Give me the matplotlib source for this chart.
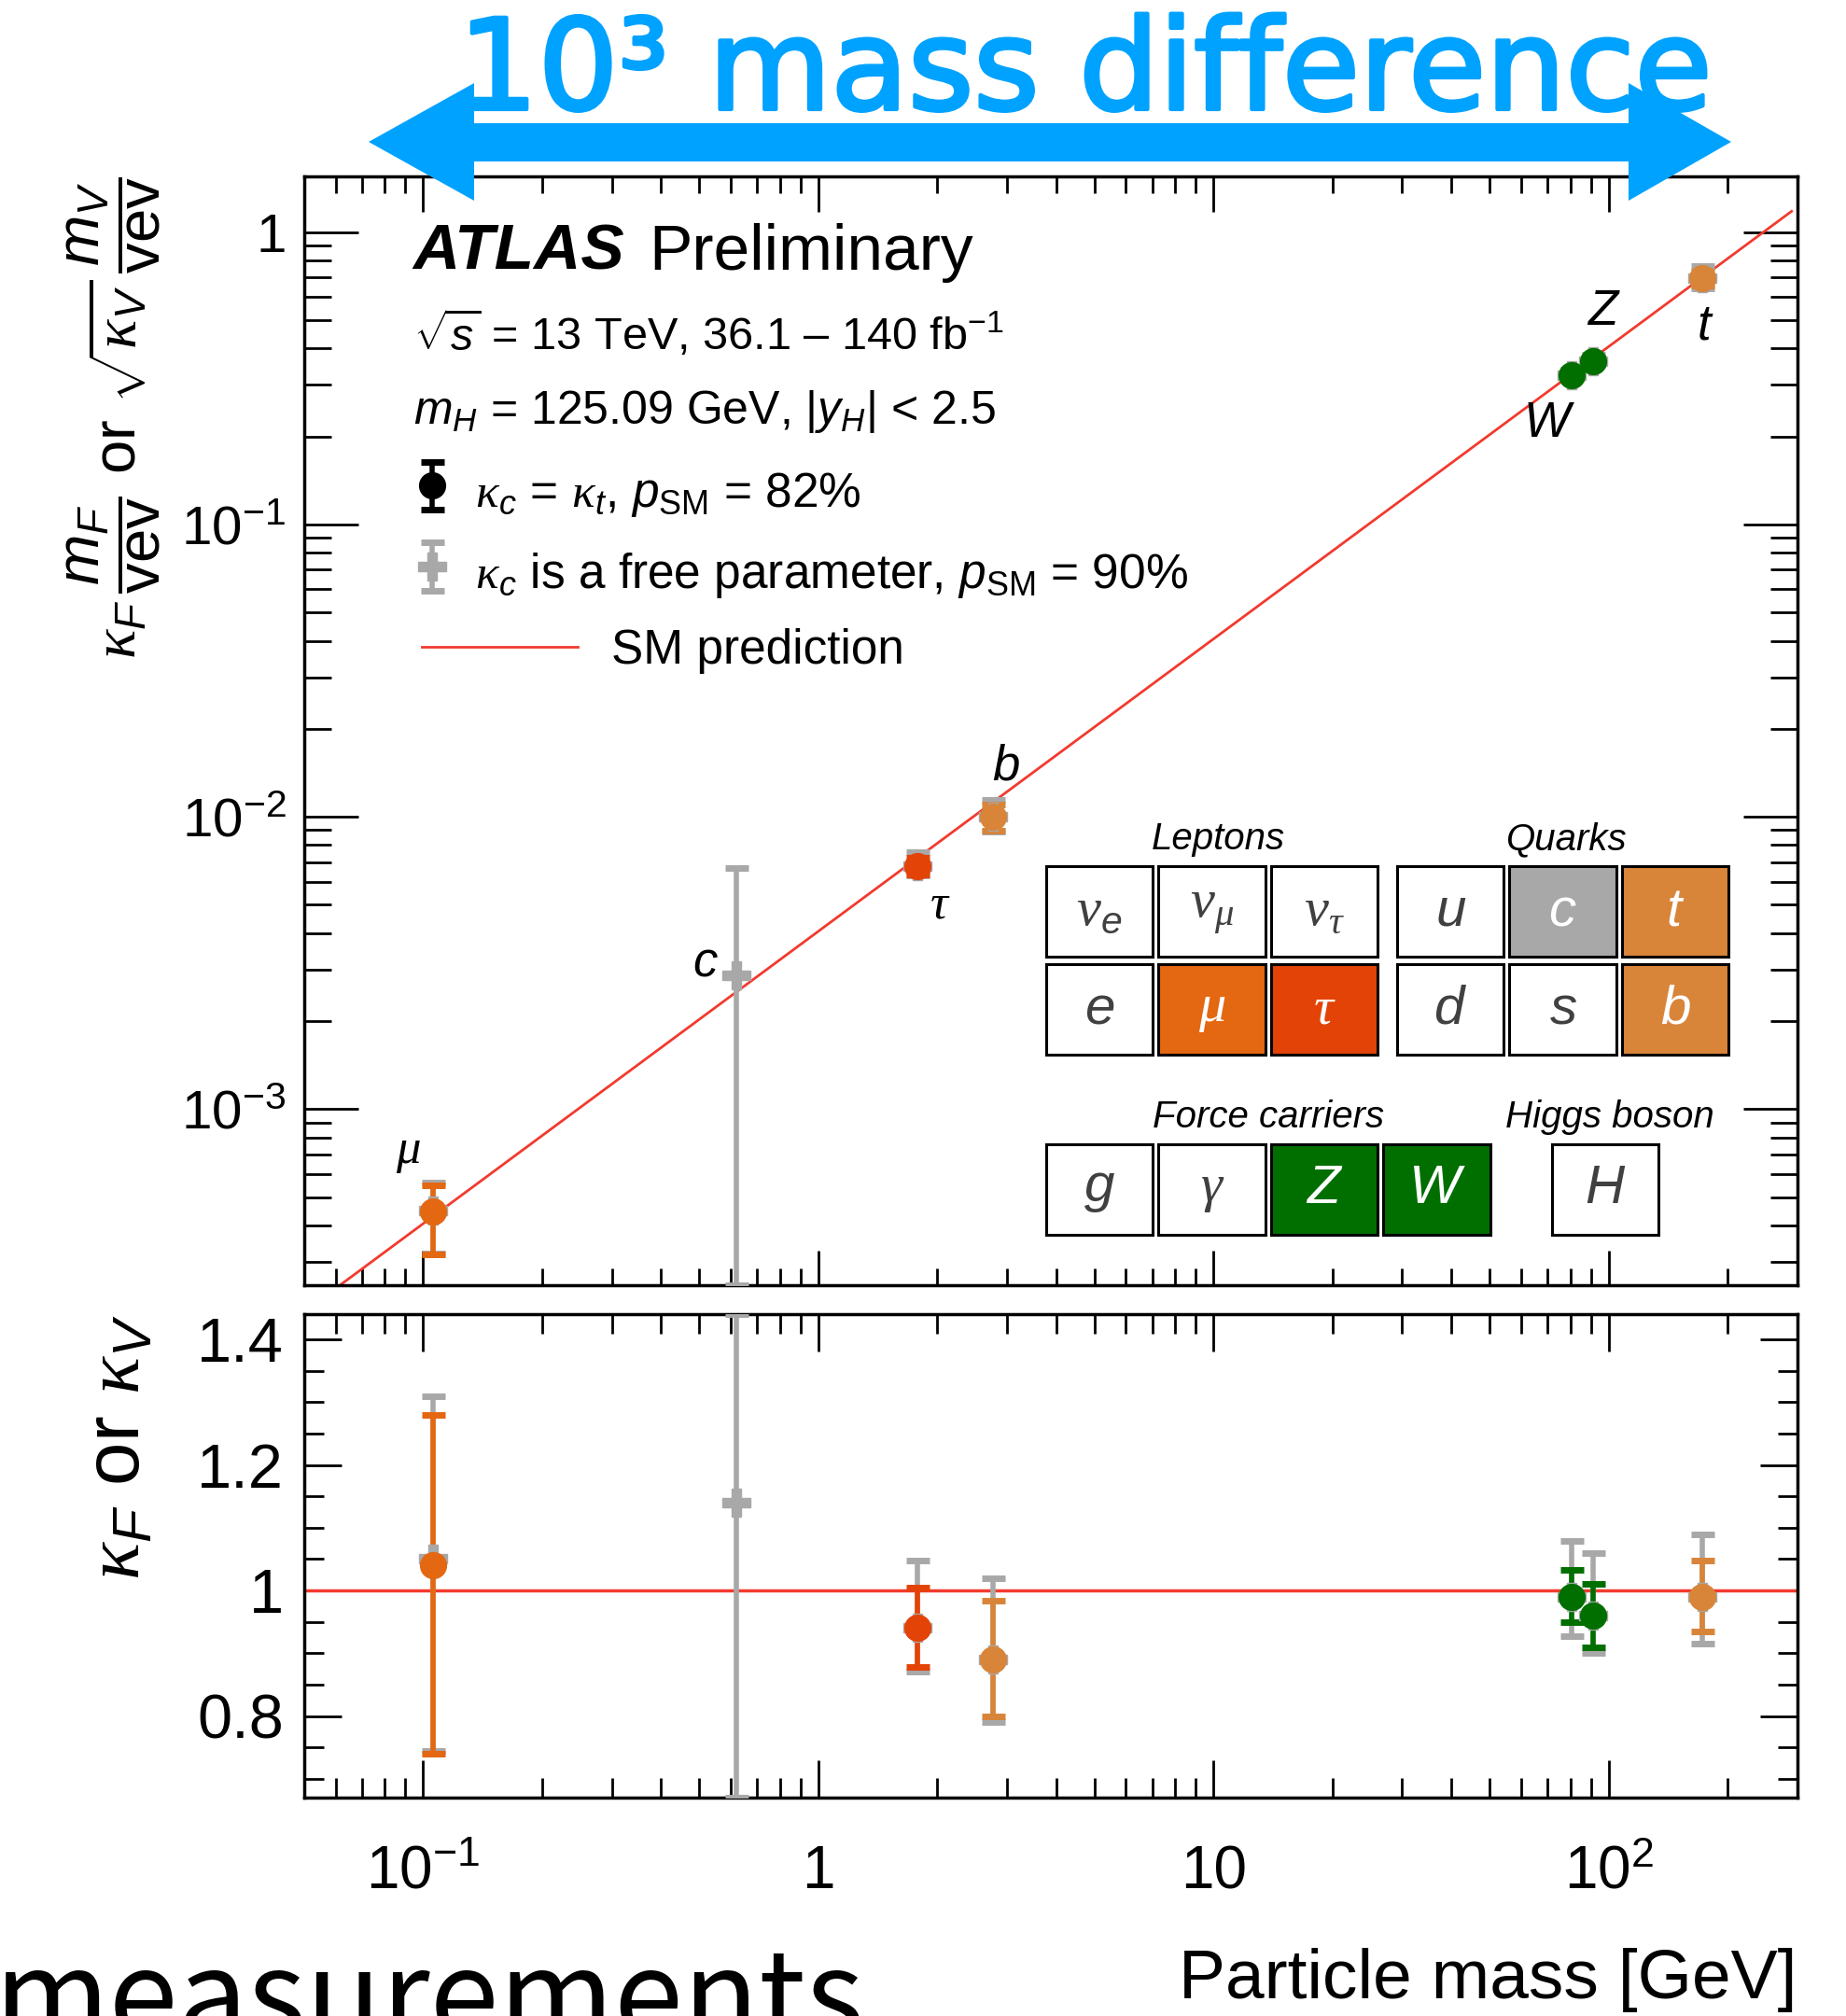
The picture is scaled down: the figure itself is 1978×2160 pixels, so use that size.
import numpy as np
import matplotlib
matplotlib.use("Agg")
import matplotlib.pyplot as plt
import matplotlib.patheffects as pe
from matplotlib.patches import Rectangle, Polygon
from matplotlib.lines import Line2D
from matplotlib.ticker import LogLocator, NullFormatter, MultipleLocator

# --- data ---
# kappa_c = kappa_t fit (coloured points)
fit_names = [r"$\mathsf{\mu}$", r"$\mathsf{\tau}$", "$b$", "$W$", "$Z$", "$t$"]
fit_mass = [0.1057, 1.777, 2.76, 80.38, 91.19, 172.5]
fit_kappa = [1.04, 0.94, 0.89, 0.99, 0.96, 0.99]
fit_kappa_lo = [0.74, 0.878, 0.80, 0.949, 0.91, 0.934]
fit_kappa_hi = [1.28, 1.004, 0.984, 1.033, 1.011, 1.048]
fit_reduced = [4.46e-4, 6.78e-3, 9.98e-3, 0.3248, 0.3629, 0.6936]
fit_reduced_lo = [3.18e-4, 6.34e-3, 8.97e-3, 0.318, 0.3533, 0.654]
fit_reduced_hi = [5.49e-4, 7.25e-3, 1.103e-2, 0.3318, 0.3724, 0.734]

# kappa_c free parameter fit (grey points)
free_mass = [0.1057, 0.62, 1.777, 2.76, 80.38, 91.19, 172.5]
free_kappa = [1.05, 1.14, 0.94, 0.89, 0.99, 0.96, 0.99]
free_kappa_lo = [0.745, 0.67, 0.871, 0.791, 0.928, 0.901, 0.915]
free_kappa_hi = [1.31, 1.44, 1.048, 1.02, 1.079, 1.06, 1.089]
free_reduced = [4.51e-4, 2.87e-3, 6.78e-3, 9.98e-3, 0.3248, 0.3629, 0.6936]
free_reduced_lo = [3.2e-4, 2.5e-4, 6.29e-3, 8.87e-3, 0.3145, 0.3515, 0.641]
free_reduced_hi = [5.62e-4, 6.7e-3, 7.57e-3, 1.143e-2, 0.3391, 0.3813, 0.763]

# SM prediction m/vev
sm_mass = [0.05, 290.0]
sm_reduced = [2.03e-4, 1.178]

x_tick_vals = [0.1, 1, 10, 100]
x_tick_labels = [r"$10^{-1}$", "1", "10", r"$10^{2}$"]
y_tick_vals = [1e-3, 1e-2, 1e-1, 1]
y_tick_labels = [r"$10^{-3}$", r"$10^{-2}$", r"$10^{-1}$", "1"]
r_tick_vals = [0.8, 1.0, 1.2, 1.4]
r_tick_labels = ["0.8", "1", "1.2", "1.4"]

# colours
MU = "#E46711"
TAU = "#E34307"
TB = "#D8853A"
GREEN = "#006F00"
GREY = "#A8A8A8"
RED = "#F23A2E"
BLUE = "#00A2FF"
fit_colors = [MU, TAU, TB, GREEN, GREEN, TB]

# label offsets in points (dx, dy) from each point
fit_label_offsets = [(-19, 46), (18, -30), (10, 39), (-17, -38), (8, 38), (2, -37)]

plt.rcParams["font.family"] = ["Liberation Sans", "DejaVu Sans"]
plt.rcParams["mathtext.fontset"] = "custom"
plt.rcParams["mathtext.rm"] = "Liberation Sans"
plt.rcParams["mathtext.it"] = "Liberation Sans:italic"
plt.rcParams["mathtext.bf"] = "Liberation Sans:bold"
plt.rcParams["mathtext.sf"] = "Liberation Serif:italic"

fig = plt.figure(figsize=(19.78, 21.6), dpi=100)
ax1 = fig.add_axes([0.1648, 0.3625, 0.8089, 0.55])
ax2 = fig.add_axes([0.1648, 0.1083, 0.8089, 0.2398])

eb = dict(elinewidth=4, capsize=9, capthick=5, zorder=3)

# grey: kappa_c free
ax1.errorbar(free_mass, free_reduced,
             yerr=[np.subtract(free_reduced, free_reduced_lo), np.subtract(free_reduced_hi, free_reduced)],
             fmt="P", ms=22, color=GREY, **eb)
ax2.errorbar(free_mass, free_kappa,
             yerr=[np.subtract(free_kappa, free_kappa_lo), np.subtract(free_kappa_hi, free_kappa)],
             fmt="P", ms=22, color=GREY, **eb)

# coloured: kappa_c = kappa_t
for i in range(len(fit_mass)):
    ax1.errorbar([fit_mass[i]], [fit_reduced[i]],
                 yerr=[[fit_reduced[i] - fit_reduced_lo[i]], [fit_reduced_hi[i] - fit_reduced[i]]],
                 fmt="o", ms=20, color=fit_colors[i], **eb)
    ax2.errorbar([fit_mass[i]], [fit_kappa[i]],
                 yerr=[[fit_kappa[i] - fit_kappa_lo[i]], [fit_kappa_hi[i] - fit_kappa[i]]],
                 fmt="o", ms=20, color=fit_colors[i], **eb)
    ax1.annotate(fit_names[i], (fit_mass[i], fit_reduced[i]), xytext=fit_label_offsets[i],
                 textcoords="offset points", ha="center", va="center", fontsize=38,
                 style="italic", zorder=4)

ax1.annotate("$c$", (free_mass[1], free_reduced[1]), xytext=(-24, 10),
             textcoords="offset points", ha="center", va="center", fontsize=38, zorder=4)

# SM prediction
ax1.plot(sm_mass, sm_reduced, color=RED, lw=2, zorder=2)
ax2.axhline(1.0, color=RED, lw=2.5, zorder=2)

# axes styling
ax1.set_xscale("log")
ax1.set_yscale("log")
ax2.set_xscale("log")
ax1.set_xlim(0.05, 300)
ax2.set_xlim(0.05, 300)
ax1.set_ylim(2.5e-4, 1.55)
ax2.set_ylim(0.67, 1.44)

for ax in (ax1, ax2):
    for sp in ax.spines.values():
        sp.set_linewidth(2.5)
    ax.xaxis.set_minor_locator(LogLocator(base=10, subs=np.arange(2, 10), numticks=50))
    ax.xaxis.set_minor_formatter(NullFormatter())
    ax.tick_params(which="both", direction="in", top=True, right=True, width=2)

ax1.set_xticks(x_tick_vals)
ax1.tick_params(labelbottom=False)
ax1.set_yticks(y_tick_vals, y_tick_labels)
ax1.yaxis.set_minor_locator(LogLocator(base=10, subs=np.arange(2, 10), numticks=50))
ax1.yaxis.set_minor_formatter(NullFormatter())
ax1.tick_params(axis="y", which="major", length=42, pad=14, labelsize=42)
ax1.tick_params(axis="y", which="minor", length=21)
ax1.tick_params(axis="x", which="major", length=27)
ax1.tick_params(axis="x", which="minor", length=13)

ax2.set_xticks(x_tick_vals, x_tick_labels)
ax2.set_yticks(r_tick_vals, r_tick_labels)
ax2.yaxis.set_minor_locator(MultipleLocator(0.05))
ax2.tick_params(axis="both", which="major", length=29)
ax2.tick_params(axis="both", which="minor", length=15)
ax2.tick_params(axis="y", pad=16, labelsize=48)
ax2.tick_params(axis="x", pad=36, labelsize=46)

ax1.set_ylabel(r"$\mathsf{\kappa}_F\,\dfrac{m_F}{\mathrm{vev}}$ or $\sqrt{\mathsf{\kappa}_V}\,\dfrac{m_V}{\mathrm{vev}}$",
               fontsize=47, loc="top")
ax1.yaxis.set_label_coords(-0.095, 1.0)
ax2.set_ylabel(r"$\mathsf{\kappa}_F$ or $\mathsf{\kappa}_V$", fontsize=60, loc="top")
ax2.yaxis.set_label_coords(-0.10, 1.0)
ax2.set_xlabel("Particle mass [GeV]", fontsize=54, loc="right")
ax2.xaxis.set_label_coords(1.0, -0.31)

# ATLAS label and info
ax1.text(0.073, 0.916, "ATLAS", transform=ax1.transAxes, fontsize=50,
         fontweight="bold", style="italic")
ax1.text(0.2306, 0.916, "Preliminary", transform=ax1.transAxes, fontsize=50)
ax1.text(0.073, 0.8434, r"$\sqrt{s}$ = 13 TeV, 36.1 – 140 fb$^{-1}$",
         transform=ax1.transAxes, fontsize=35)
ax1.text(0.073, 0.777, r"$m_H$ = 125.09 GeV, $|y_H|$ < 2.5",
         transform=ax1.transAxes, fontsize=36)

# legends (proxy artists)
h_fit = ax1.errorbar([np.nan], [np.nan], yerr=[1.0], fmt="o", ms=20, color="black",
                     elinewidth=4, capsize=9, capthick=5)
h_free = ax1.errorbar([np.nan], [np.nan], yerr=[1.0], fmt="P", ms=22, color=GREY,
                      elinewidth=4, capsize=9, capthick=5)
leg1 = ax1.legend([h_fit, h_free],
                  [r"$\mathsf{\kappa}_c$ = $\mathsf{\kappa}_t$, $p_{\mathrm{SM}}$ = 82%",
                   r"$\mathsf{\kappa}_c$ is a free parameter, $p_{\mathrm{SM}}$ = 90%"],
                  loc="upper left", bbox_to_anchor=(0.0725, 0.74), frameon=False,
                  fontsize=37, handlelength=0.8, handleheight=1.3, handletextpad=0.5,
                  borderpad=0, borderaxespad=0, labelspacing=0.55)
ax1.add_artist(leg1)
ax1.legend([Line2D([], [], color=RED, lw=2)], ["SM prediction"],
           loc="center left", bbox_to_anchor=(0.079, 0.572), frameon=False,
           fontsize=37, handlelength=3.25, handletextpad=0.7,
           borderpad=0, borderaxespad=0)

# particle table inset
box_w, box_h = 0.0715, 0.0817
col_step, row_step = 0.0753, 0.0884


def draw_cells(x0, y_top, cells, fills):
    for r, row in enumerate(cells):
        for c, sym in enumerate(row):
            x = x0 + c * col_step
            y = y_top - r * row_step
            fc = fills[r][c]
            ax1.add_patch(Rectangle((x, y), box_w, box_h, transform=ax1.transAxes,
                                    facecolor=fc, edgecolor="black", lw=2.2, zorder=5))
            tc = "#404040" if fc == "white" else "white"
            ax1.text(x + box_w / 2, y + box_h / 2, sym, transform=ax1.transAxes,
                     ha="center", va="center", fontsize=42, color=tc, zorder=6)


draw_cells(0.4969, 0.2963,
           [[r"$\mathsf{\nu}_e$", r"$\mathsf{\nu}_{\mathsf{\mu}}$", r"$\mathsf{\nu}_{\mathsf{\tau}}$"],
            ["$e$", r"$\mathsf{\mu}$", r"$\mathsf{\tau}$"]],
           [["white", "white", "white"], ["white", MU, TAU]])
draw_cells(0.7319, 0.2963, [["$u$", "$c$", "$t$"], ["$d$", "$s$", "$b$"]],
           [["white", GREY, TB], ["white", "white", TB]])
draw_cells(0.4969, 0.0455, [["$g$", r"$\mathsf{\gamma}$", "$Z$", "$W$"]],
           [["white", "white", GREEN, GREEN]])
draw_cells(0.8356, 0.0455, [["$H$"]], [["white"]])

for txt, xc, yb in [("Leptons", 0.612, 0.3931), ("Quarks", 0.845, 0.3931),
                    ("Force carriers", 0.6456, 0.1423), ("Higgs boson", 0.8744, 0.1423)]:
    ax1.text(xc, yb, txt, transform=ax1.transAxes, ha="center", va="baseline",
             fontsize=29, style="italic", zorder=6)

# blue arrow annotation on top
W, H = 1978.0, 2160.0
arrow_px = [(395, 152), (508, 89), (508, 132), (1745, 132), (1745, 89), (1855, 152),
            (1745, 215), (1745, 173), (508, 173), (508, 215)]
fig.patches.append(Polygon([(x / W, 1 - y / H) for x, y in arrow_px], closed=True,
                           transform=fig.transFigure, facecolor=BLUE, edgecolor="none",
                           zorder=10))
fig.text(491 / W, 1 - 117 / H, "10³ mass difference", color=BLUE, fontsize=97,
         family=["DejaVu Sans"], ha="left", va="baseline", zorder=11,
         path_effects=[pe.withStroke(linewidth=3, foreground=BLUE)])
fig.text(-0.003, 1 - 2185 / H, "measurements", color="black", fontsize=96,
         family=["Noto Sans CJK JP", "DejaVu Sans"], ha="left", va="baseline")

fig.savefig("out.png", dpi=100)
